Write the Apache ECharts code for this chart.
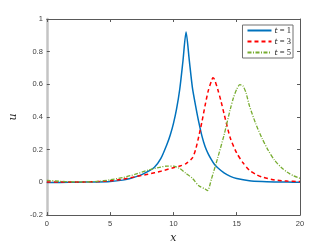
<!DOCTYPE html>
<html><head><meta charset="utf-8">
<script src="https://cdn.jsdelivr.net/npm/echarts@6/dist/echarts.min.js"></script>
<style>html,body{margin:0;padding:0;background:#fff}#c{width:332px;height:249px}</style>
</head><body><div id="c"></div>
<script>
var xTicks = [0, 5, 10, 15, 20];
var yTicks = [-0.2, 0, 0.2, 0.4, 0.6, 0.8, 1];
var seriesNames = ['t = 1', 't = 3', 't = 5'];

var x1 = [0,1,2,3,4,5,6,6.5,7,7.5,8,8.5,9,9.5,9.75,10,10.25,10.5,10.75,11,11.25,11.5,11.75,12,12.25,12.5,12.75,13,13.25,13.5,14,14.5,15,16,17,18,19,20];
var u1 = [0,0,0.001,0.002,0.003,0.006,0.014,0.022,0.034,0.048,0.067,0.093,0.145,0.235,0.29,0.36,0.45,0.57,0.74,0.92,0.75,0.58,0.47,0.37,0.285,0.22,0.175,0.14,0.11,0.09,0.058,0.037,0.024,0.01,0.005,0.003,0.002,0.001];

var x3 = [0,1,2,3,4,5,6,7,8,9,10,10.5,11,11.5,11.75,12,12.25,12.5,12.75,13,13.12,13.25,13.5,13.75,14,14.5,15,15.5,16,16.5,17,18,19,20];
var u3 = [0.003,0.002,0.002,0.003,0.005,0.01,0.02,0.035,0.05,0.068,0.09,0.1,0.115,0.15,0.2,0.28,0.37,0.47,0.56,0.62,0.64,0.63,0.57,0.5,0.42,0.27,0.18,0.12,0.075,0.05,0.033,0.015,0.008,0.005];

var x5 = [0,1,2,3,4,5,6,7,8,9,9.5,10,10.5,11,11.5,12,12.5,12.7,13,13.5,14,14.5,14.75,15,15.25,15.5,15.75,16,16.5,17,17.5,18,18.5,19,19.5,20];
var u5 = [0.013,0.007,0.004,0.003,0.006,0.016,0.03,0.05,0.075,0.094,0.1,0.1,0.085,0.055,0.025,-0.02,-0.04,-0.05,0.02,0.15,0.29,0.45,0.52,0.57,0.598,0.59,0.545,0.47,0.36,0.27,0.195,0.135,0.093,0.062,0.04,0.025];

function pairs(xs, us){ return xs.map(function(v,i){ return [v, us[i]]; }); }

var axisCol = '#595959';
var lblStyle = {color:'#404040', fontSize:7.5, fontFamily:'Liberation Sans, Arial, sans-serif'};

var chart = echarts.init(document.getElementById('c'), null, {renderer:'canvas'});
chart.setOption({
  animation:false,
  backgroundColor:'#fff',
  grid:{left:43, right:32, top:19, bottom:29},
  legend:{
    right:39, top:25, orient:'vertical',
    itemWidth:24, itemHeight:8, itemGap:2,
    padding:[1,2,1,4],
    borderColor:'#707070', borderWidth:1, backgroundColor:'#fff',
    itemStyle:{opacity:0, borderWidth:0},
    data: seriesNames,
    formatter:function(n){ return '{i|t}{n|' + n.slice(1) + '}'; },
    textStyle:{ fontSize:8, padding:[0,0,0,-2],
      rich:{ i:{fontStyle:'italic', fontFamily:'DejaVu Serif, Liberation Serif, serif', fontSize:8, color:'#222'},
             n:{fontFamily:'Liberation Serif, serif', fontSize:8.5, color:'#222'} } }
  },
  xAxis:[
    {type:'value', min:0, max:20, interval:5, position:'bottom',
     name:'x', nameLocation:'middle', nameGap:15,
     nameTextStyle:{fontStyle:'italic', fontFamily:'DejaVu Serif, Liberation Serif, serif', fontSize:11, color:'#222'},
     axisLine:{onZero:false, lineStyle:{color:axisCol, width:1}},
     axisTick:{inside:true, length:3, lineStyle:{color:axisCol}},
     axisLabel:Object.assign({margin:5}, lblStyle),
     splitLine:{show:false}},
    {type:'value', min:0, max:20, interval:5, position:'top',
     axisLine:{onZero:false, lineStyle:{color:axisCol, width:1}},
     axisTick:{inside:true, length:3, lineStyle:{color:axisCol}},
     axisLabel:{show:false}, splitLine:{show:false}}
  ],
  yAxis:[
    {type:'value', min:-0.2, max:1, interval:0.2, position:'left',
     name:'u', nameLocation:'middle', nameGap:25,
     nameTextStyle:{fontStyle:'italic', fontFamily:'DejaVu Serif, Liberation Serif, serif', fontSize:11, color:'#222'},
     axisLine:{show:true, onZero:false, lineStyle:{color:'#c4c4c4', width:2.5}},
     axisTick:{inside:true, length:3, lineStyle:{color:axisCol}},
     axisLabel:Object.assign({margin:4, formatter:function(v){ return String(Math.round(v*10)/10); }}, lblStyle),
     splitLine:{show:false}},
    {type:'value', min:-0.2, max:1, interval:0.2, position:'right',
     axisLine:{show:true, onZero:false, lineStyle:{color:axisCol, width:1}},
     axisTick:{inside:true, length:3, lineStyle:{color:axisCol}},
     axisLabel:{show:false}, splitLine:{show:false}}
  ],
  series:[
    {name:seriesNames[0], type:'line', data:pairs(x1,u1), showSymbol:false, symbol:'none', smooth:0.25,
     lineStyle:{color:'#0072BD', width:1.5}, itemStyle:{color:'#0072BD'}},
    {name:seriesNames[1], type:'line', data:pairs(x3,u3), showSymbol:false, symbol:'none', smooth:0.25,
     lineStyle:{color:'#FF0000', width:1.5, type:[4,3]}, itemStyle:{color:'#FF0000'}},
    {name:seriesNames[2], type:'line', data:pairs(x5,u5), showSymbol:false, symbol:'none', smooth:0.25,
     lineStyle:{color:'#77AC30', width:1.3, type:[4,1.5,1,1.5]}, itemStyle:{color:'#77AC30'}}
  ]
});
</script>
</body></html>
